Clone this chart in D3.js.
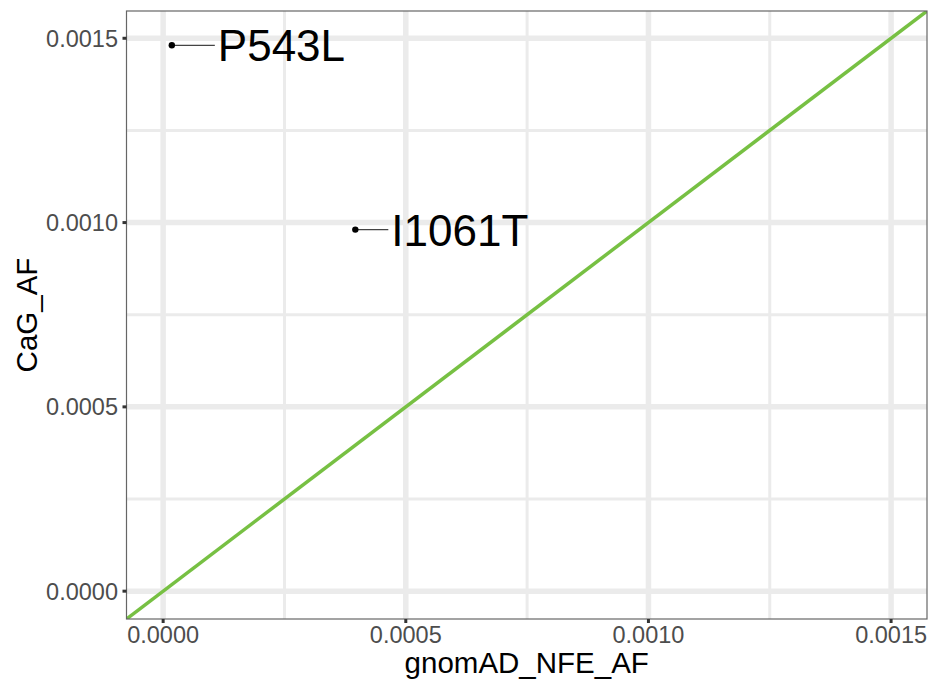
<!DOCTYPE html>
<html>
<head>
<meta charset="utf-8">
<script src="https://cdn.jsdelivr.net/npm/d3@7"></script>
<style>
  body { margin: 0; background: #fff; }
  text { font-family: "Liberation Sans", Arial, sans-serif; }
</style>
</head>
<body>
<div id="chart"></div>
<script>
// data
var variants = ["P543L", "I1061T"];
var gnomadAF = [0.0000179, 0.000396];
var cagAF = [0.001481, 0.000981];
var majorTicks = [0, 0.0005, 0.0010, 0.0015];
var minorTicks = [0.00025, 0.00075, 0.00125];
var axisLimits = [-0.0000755, 0.001574];

// label nudge in px (repel result)
var labelDx = [46, 36];

function drawChart(){
  var W = 931, H = 679;
  var pLeft = 126.5, pRight = 927, pTop = 11, pBottom = 619;

  var svg = d3.select("#chart").append("svg")
    .attr("width", W).attr("height", H);

  svg.append("rect").attr("width", W).attr("height", H).style("fill", "#fff");

  var x = d3.scaleLinear().domain(axisLimits).range([pLeft, pRight]);
  var y = d3.scaleLinear().domain(axisLimits).range([pBottom, pTop]);

  var grid = svg.append("g");

  //minor grid
  grid.selectAll("minorV").data(minorTicks).enter().append("line")
    .attr("x1", function(d){ return x(d); }).attr("x2", function(d){ return x(d); })
    .attr("y1", pTop).attr("y2", pBottom)
    .style("stroke", "#ebebeb").style("stroke-width", 3);
  grid.selectAll("minorH").data(minorTicks).enter().append("line")
    .attr("y1", function(d){ return y(d); }).attr("y2", function(d){ return y(d); })
    .attr("x1", pLeft).attr("x2", pRight)
    .style("stroke", "#ebebeb").style("stroke-width", 3);

  //major grid
  grid.selectAll("majorV").data(majorTicks).enter().append("line")
    .attr("x1", function(d){ return x(d); }).attr("x2", function(d){ return x(d); })
    .attr("y1", pTop).attr("y2", pBottom)
    .style("stroke", "#ebebeb").style("stroke-width", 5.5);
  grid.selectAll("majorH").data(majorTicks).enter().append("line")
    .attr("y1", function(d){ return y(d); }).attr("y2", function(d){ return y(d); })
    .attr("x1", pLeft).attr("x2", pRight)
    .style("stroke", "#ebebeb").style("stroke-width", 5.5);

  // y = x line
  svg.append("clipPath").attr("id", "panelClip")
    .append("rect").attr("x", pLeft).attr("y", pTop)
    .attr("width", pRight - pLeft).attr("height", pBottom - pTop);

  svg.append("line")
    .attr("clip-path", "url(#panelClip)")
    .attr("x1", x(axisLimits[0])).attr("y1", y(axisLimits[0]))
    .attr("x2", x(axisLimits[1])).attr("y2", y(axisLimits[1]))
    .style("stroke", "#77c043").style("stroke-width", 3.5);

  // points + labels
  var pts = variants.map(function(v, i){ return {name: v, gx: gnomadAF[i], cy: cagAF[i], dx: labelDx[i]}; });

  svg.selectAll("seg").data(pts).enter().append("line")
    .attr("x1", function(d){ return x(d.gx); })
    .attr("x2", function(d){ return x(d.gx) + d.dx - 3; })
    .attr("y1", function(d){ return y(d.cy); })
    .attr("y2", function(d){ return y(d.cy); })
    .style("stroke", "#444").style("stroke-width", 1.2);

  svg.selectAll("pt").data(pts).enter().append("circle")
    .attr("cx", function(d){ return x(d.gx); })
    .attr("cy", function(d){ return y(d.cy); })
    .attr("r", 3.2)
    .style("fill", "#000");

  svg.selectAll("lbl").data(pts).enter().append("text")
    .attr("x", function(d){ return x(d.gx) + d.dx; })
    .attr("y", function(d){ return y(d.cy) + 16; })
    .style("font-size", "44px")
    .style("fill", "#000")
    .text(function(d){ return d.name; });

  // panel border
  svg.append("rect")
    .attr("x", pLeft).attr("y", pTop)
    .attr("width", pRight - pLeft).attr("height", pBottom - pTop)
    .style("fill", "none").style("stroke", "#666").style("stroke-width", 1.2);

  // axes
  var fmt = d3.format(".4f");

  svg.selectAll("xtick").data(majorTicks).enter().append("line")
    .attr("x1", function(d){ return x(d); }).attr("x2", function(d){ return x(d); })
    .attr("y1", pBottom).attr("y2", pBottom + 4)
    .style("stroke", "#333").style("stroke-width", 3);
  svg.selectAll("xlab").data(majorTicks).enter().append("text")
    .attr("x", function(d){ return x(d); })
    .attr("y", 643)
    .attr("text-anchor", "middle")
    .style("font-size", "23.5px")
    .style("fill", "#4d4d4d")
    .text(function(d){ return fmt(d); });

  svg.selectAll("ytick").data(majorTicks).enter().append("line")
    .attr("y1", function(d){ return y(d); }).attr("y2", function(d){ return y(d); })
    .attr("x1", pLeft - 4).attr("x2", pLeft)
    .style("stroke", "#333").style("stroke-width", 3);
  svg.selectAll("ylab").data(majorTicks).enter().append("text")
    .attr("x", 118)
    .attr("y", function(d){ return y(d) + 8.5; })
    .attr("text-anchor", "end")
    .style("font-size", "23.5px")
    .style("fill", "#4d4d4d")
    .text(function(d){ return fmt(d); });

  // titles
  svg.append("text")
    .attr("x", (pLeft + pRight) / 2).attr("y", 673)
    .attr("text-anchor", "middle")
    .style("font-size", "29.5px")
    .text("gnomAD_NFE_AF");

  svg.append("text")
    .attr("transform", "translate(37," + ((pTop + pBottom) / 2) + ") rotate(-90)")
    .attr("text-anchor", "middle")
    .style("font-size", "29.5px")
    .text("CaG_AF");
}

drawChart();
</script>
</body>
</html>
